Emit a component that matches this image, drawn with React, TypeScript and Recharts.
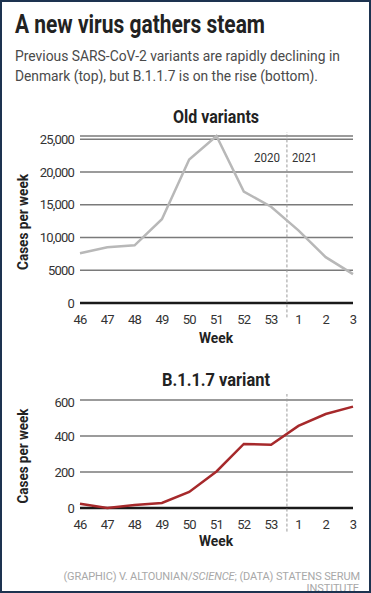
import { LineChart, Line, XAxis, YAxis, CartesianGrid, ReferenceLine } from 'recharts';

// weeks 46..53 of 2020, then 1..3 of 2021
const WEEKS = ['46', '47', '48', '49', '50', '51', '52', '53', '1', '2', '3'];
const OLD_CASES = [7600, 8500, 8800, 12800, 21900, 25500, 17000, 14700, 11100, 7000, 4400];
const B117_CASES = [24, 0, 17, 28, 89, 203, 356, 351, 456, 522, 563];

const OLD_TICKS = [0, 5000, 10000, 15000, 20000, 25000];
const OLD_TICK_LABELS = ['0', '5000', '10,000', '15,000', '20,000', '25,000'];
const B117_TICKS = [0, 200, 400, 600];
const B117_TICK_LABELS = ['0', '200', '400', '600'];

const YEAR_BREAK = 7.58; // between week 53 and week 1

const oldData = WEEKS.map((week, i) => ({ i, week, cases: OLD_CASES[i] }));
const b117Data = WEEKS.map((week, i) => ({ i, week, cases: B117_CASES[i] }));

const FONT = 'Roboto, sans-serif';
const tickStyle = { fontSize: 13, fill: '#333', fontFamily: FONT, letterSpacing: -0.8 };
const xTicks = WEEKS.map((_, i) => i);

function Panel({ data, ticks, tickLabels, max, color, breakTop, breakBottom, height }: {
  data: { i: number; week: string; cases: number }[];
  ticks: number[];
  tickLabels: string[];
  max: number;
  color: string;
  breakTop: number;
  breakBottom: number;
  height: number;
}) {
  return (
    <LineChart width={371} height={height} data={data} margin={{ top: 6, right: 18, bottom: 0, left: 0 }}>
      <CartesianGrid vertical={false} stroke="#7a7a7a" strokeWidth={1.5} />
      <XAxis
        type="number"
        dataKey="i"
        domain={[0, 10]}
        ticks={xTicks}
        interval={0}
        tickFormatter={(v) => WEEKS[v]}
        axisLine={false}
        tickLine={false}
        tickSize={0}
        tickMargin={12}
        height={30}
        tick={tickStyle}
      />
      <YAxis
        domain={[0, max]}
        ticks={ticks}
        tickFormatter={(v) => tickLabels[ticks.indexOf(v)]}
        axisLine={false}
        tickLine={false}
        tickSize={0}
        tickMargin={6}
        width={80}
        tick={tickStyle}
      />
      <ReferenceLine y={0} stroke="#1a1a1a" strokeWidth={2.5} />
      <ReferenceLine
        segment={[{ x: YEAR_BREAK, y: breakBottom }, { x: YEAR_BREAK, y: breakTop }]}
        ifOverflow="visible"
        stroke="#9a9a9a"
        strokeDasharray="3 2"
      />
      <Line type="linear" dataKey="cases" stroke={color} strokeWidth={2.5} dot={false} isAnimationActive={false} />
    </LineChart>
  );
}

const creditStyle = {
  position: 'absolute' as const,
  right: 11,
  fontSize: 11,
  lineHeight: '13px',
  color: '#a8a8a8',
  whiteSpace: 'nowrap' as const,
  letterSpacing: -0.1,
};

export default function App() {
  return (
    <div style={{ position: 'absolute', left: 0, top: 0, width: 371, height: 593, background: '#fff', overflow: 'hidden', fontFamily: FONT }}>
      <div style={{ position: 'absolute', left: 0, top: 130 }}>
        <Panel data={oldData} ticks={OLD_TICKS} tickLabels={OLD_TICK_LABELS} max={25500}
          color="#b8b8b8" breakTop={26100} breakBottom={-2200} height={203} />
      </div>
      <div style={{ position: 'absolute', left: 0, top: 394 }}>
        <Panel data={b117Data} ticks={B117_TICKS} tickLabels={B117_TICK_LABELS} max={600}
          color="#a6292b" breakTop={644} breakBottom={-131} height={144} />
      </div>

      {/* headings and axis titles */}
      <svg width={371} height={593} style={{ position: 'absolute', left: 0, top: 0, pointerEvents: 'none' }} fontFamily={FONT}>
        <text x={15} y={33} fontSize={25} fontWeight={700} fill="#222" textLength={250} lengthAdjust="spacingAndGlyphs">A new virus gathers steam</text>
        <text x={15} y={61} fontSize={15} fill="#4a4a4a" textLength={325} lengthAdjust="spacingAndGlyphs">Previous SARS-CoV-2 variants are rapidly declining in</text>
        <text x={15} y={81} fontSize={15} fill="#4a4a4a" textLength={303} lengthAdjust="spacingAndGlyphs">Denmark (top), but B.1.1.7 is on the rise (bottom).</text>

        <text x={216} y={123} fontSize={18} fontWeight={700} fill="#222" textAnchor="middle" textLength={86} lengthAdjust="spacingAndGlyphs">Old variants</text>
        <text x={254} y={162} fontSize={13.5} fill="#333" textLength={26} lengthAdjust="spacingAndGlyphs">2020</text>
        <text x={292} y={162} fontSize={13.5} fill="#333" textLength={25} lengthAdjust="spacingAndGlyphs">2021</text>
        <text x={216} y={343} fontSize={15} fontWeight={700} fill="#222" textAnchor="middle" textLength={34} lengthAdjust="spacingAndGlyphs">Week</text>
        <text transform="translate(28,222) rotate(-90)" fontSize={15} fontWeight={700} fill="#222" textAnchor="middle" textLength={96} lengthAdjust="spacingAndGlyphs">Cases per week</text>

        <text x={216} y={386} fontSize={18} fontWeight={700} fill="#222" textAnchor="middle" textLength={108} lengthAdjust="spacingAndGlyphs">B.1.1.7 variant</text>
        <text x={216} y={546} fontSize={15} fontWeight={700} fill="#222" textAnchor="middle" textLength={34} lengthAdjust="spacingAndGlyphs">Week</text>
        <text transform="translate(28,456) rotate(-90)" fontSize={15} fontWeight={700} fill="#222" textAnchor="middle" textLength={95} lengthAdjust="spacingAndGlyphs">Cases per week</text>
      </svg>

      {/* credit line, runs into the frame like the original */}
      <div style={{ ...creditStyle, top: 570 }}>
        (GRAPHIC) V. ALTOUNIAN/<i>SCIENCE</i>; (DATA) STATENS SERUM
      </div>
      <div style={{ ...creditStyle, top: 582, right: 12 }}>INSTITUTE</div>

      {/* frame */}
      <div style={{ position: 'absolute', left: 0, top: 0, width: 371, height: 593, boxSizing: 'border-box', border: '2px solid #1d3350', pointerEvents: 'none' }} />
    </div>
  );
}
